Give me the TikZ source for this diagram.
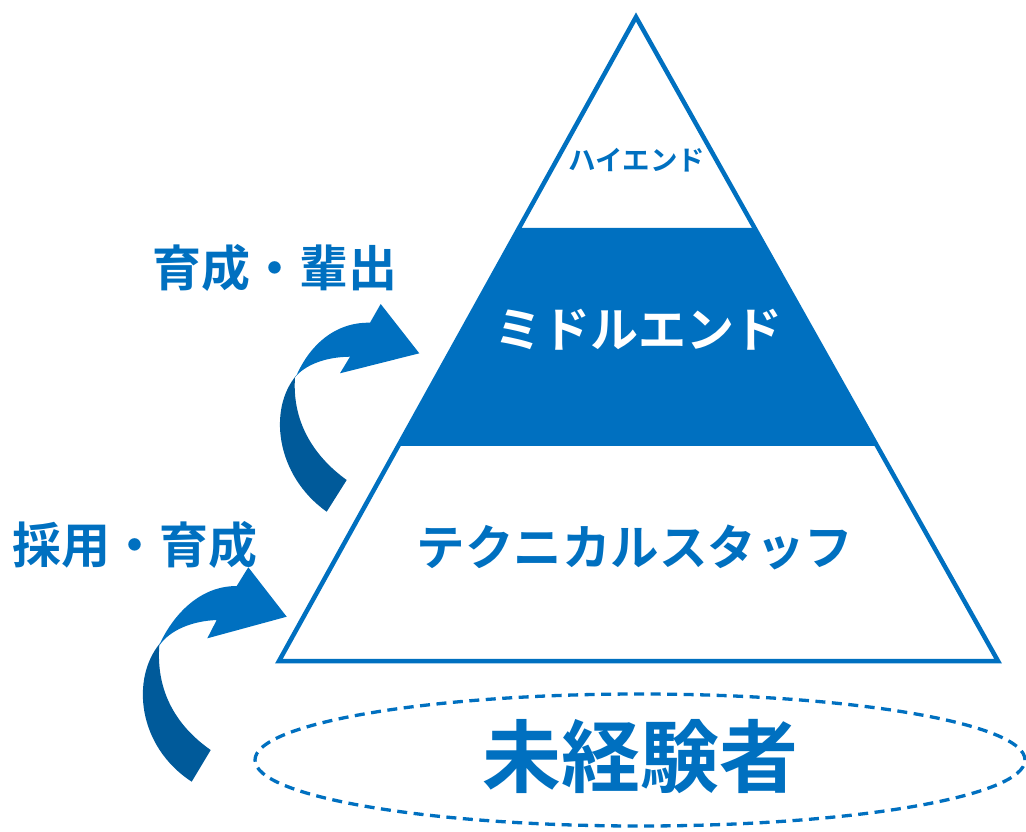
\documentclass[tikz,border=0pt]{standalone}
\usepackage{fontspec}
\newfontfamily\jp{Noto Sans CJK JP}[BoldFont={Noto Sans CJK JP Bold}]
\usetikzlibrary{calc,shapes.geometric}
\definecolor{mblue}{HTML}{0070C0}
\definecolor{dblue}{HTML}{005A9A}
\tikzset{
  lbl/.style={font=\jp\bfseries, text=mblue, inner sep=0pt, anchor=center},
  light/.style={fill=mblue, draw=none},
  dark/.style={fill=dblue, draw=none},
}
\begin{document}
\begin{tikzpicture}[x=1pt,y=-1pt]
\useasboundingbox (0,0) rectangle (1026,831);
% pyramid
\coordinate (apex) at (636,17);
\coordinate (bl) at (279,661);
\coordinate (br) at (998,661);
\coordinate (m1) at ($(apex)!0.3276!(bl)$);
\coordinate (m2) at ($(apex)!0.3276!(br)$);
\coordinate (m3) at ($(apex)!0.6661!(br)$);
\coordinate (m4) at ($(apex)!0.6661!(bl)$);
\fill[mblue] (m1) -- (m2) -- (m3) -- (m4) -- cycle;
\draw[mblue, line width=4.5pt, line join=miter] (apex) -- (br) -- (bl) -- cycle;
% labels
\node[lbl, font=\jp\bfseries\fontsize{27.5}{27.5}\selectfont] (high) at (637,160) {ハイエンド};
\node[lbl, text=white, font=\jp\bfseries\fontsize{48}{48}\selectfont] (mid) at (638,330) {ミドルエンド};
\node[lbl, font=\jp\bfseries\fontsize{48.5}{48.5}\selectfont] (tech) at (635,547) {テクニカルスタッフ};
% dashed ellipse
\node[draw=mblue, dashed, dash pattern=on 10pt off 6.5pt, line width=3.3pt, ellipse, minimum width=770pt, minimum height=132pt, inner sep=0pt] (base) at (640,760) {};
\node[lbl, font=\jp\bfseries\fontsize{79}{79}\selectfont] (novice) at (640,757) {未経験者};
\node[lbl, font=\jp\bfseries\fontsize{49}{49}\selectfont] (upl) at (275,268) {育成・輩出};
\node[lbl, font=\jp\bfseries\fontsize{49}{49}\selectfont] (lowl) at (135,545) {採用・育成};
% upper curved arrow
\fill[dark] (296.7,375) .. controls (268,408) and (275,475) .. (326.7,511.7)
  -- (346.7,480) .. controls (312,455) and (292,420) .. (295,377.3) -- cycle;
\fill[light] (296.7,375) .. controls (310,345) and (335,322) .. (370,322.7)
  -- (380.7,304) -- (419.3,353.3) -- (340,373.3) -- (350,356.7)
  .. controls (325,357) and (305,365) .. (295,377.3) -- cycle;
% lower curved arrow
\fill[dark] (160,643.3) .. controls (131,678) and (137,746) .. (191.7,781.7)
  -- (210.7,750) .. controls (175,725) and (156,690) .. (159.3,645.5) -- cycle;
\fill[light] (160,643.3) .. controls (174,614) and (200,586) .. (236.7,586)
  -- (248.3,567.3) -- (286.7,616.7) -- (207.3,638.3) -- (216.7,620)
  .. controls (192,621) and (170,630) .. (159.3,645.5) -- cycle;
\end{tikzpicture}
\end{document}
